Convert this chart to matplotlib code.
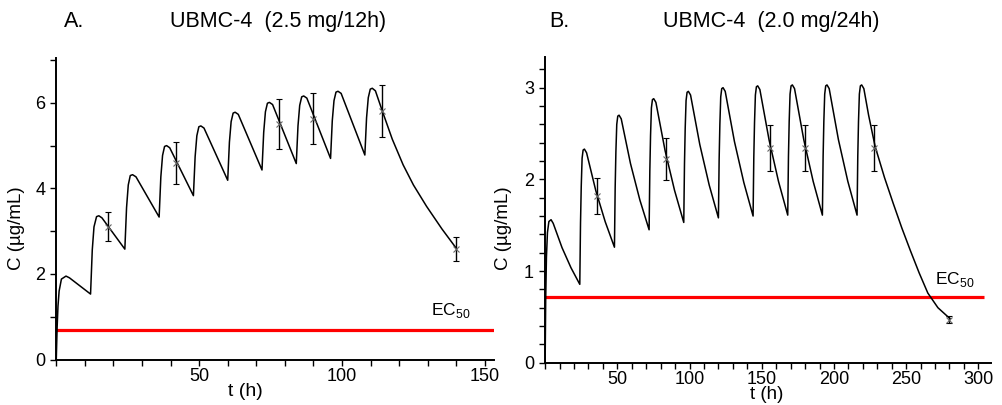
import matplotlib
matplotlib.use('Agg')
import matplotlib.pyplot as plt
from matplotlib.ticker import FixedLocator, MultipleLocator

plt.rcParams['font.family'] = ['Liberation Sans', 'DejaVu Sans']
plt.rcParams['mathtext.fontset'] = 'custom'
plt.rcParams['mathtext.rm'] = 'Liberation Sans'

# panel A: simulated curve, 2.5 mg every 12 h
t_a = [0, 0.3, 0.6, 1.0, 1.8, 3.4, 4.6, 12.0,
       12.6, 13.2, 14.1, 14.9, 16.0, 24.0,
       24.6, 25.2, 25.9, 26.7, 27.9, 36.0,
       36.6, 37.2, 37.9, 38.6, 39.7, 48.0,
       48.6, 49.2, 49.9, 50.6, 51.7, 60.0,
       60.6, 61.2, 61.9, 62.6, 63.7, 72.0,
       72.6, 73.2, 73.9, 74.6, 75.7, 84.0,
       84.6, 85.2, 85.9, 86.6, 87.7, 96.0,
       96.6, 97.2, 97.9, 98.6, 99.7, 108.0,
       108.6, 109.2, 109.9, 110.6, 111.7, 114.0, 117.6, 121.4,
       125.0, 129.6, 135.0, 140.0]
c_a = [0, 0.75, 1.25, 1.6, 1.88, 1.95, 1.91, 1.53,
       2.56, 3.10, 3.34, 3.36, 3.31, 2.58,
       3.55, 4.08, 4.30, 4.32, 4.27, 3.33,
       4.27, 4.77, 4.98, 5.00, 4.95, 3.83,
       4.74, 5.23, 5.44, 5.46, 5.41, 4.19,
       5.08, 5.56, 5.76, 5.78, 5.73, 4.43,
       5.31, 5.79, 5.99, 6.01, 5.96, 4.58,
       5.46, 5.94, 6.14, 6.16, 6.11, 4.70,
       5.58, 6.05, 6.25, 6.27, 6.22, 4.78,
       5.65, 6.12, 6.32, 6.34, 6.28, 5.83, 5.15, 4.55,
       4.08, 3.58, 3.05, 2.60]
obs_t_a = [18, 42, 78, 90, 114, 140]
obs_c_a = [3.10, 4.60, 5.50, 5.63, 5.81, 2.59]
obs_e_a = [0.34, 0.49, 0.59, 0.60, 0.61, 0.28]
ec50_a = 0.69

# panel B: 2.0 mg every 24 h
t_b = [0, 0.4, 0.9, 1.6, 2.6, 4.1, 5.6, 11.7, 17.9, 24.0,
       24.5, 25.0, 25.6, 26.3, 27.2, 28.7, 35.1, 41.6, 48.0,
       48.5, 49.0, 49.6, 50.3, 51.2, 52.7, 59.1, 65.6, 72.0,
       72.5, 73.0, 73.6, 74.3, 75.2, 76.7, 83.1, 89.6, 96.0,
       96.5, 97.0, 97.6, 98.3, 99.2, 100.7, 107.1, 113.6, 120.0,
       120.5, 121.0, 121.6, 122.3, 123.2, 124.7, 131.1, 137.6, 144.0,
       144.5, 145.0, 145.6, 146.3, 147.2, 148.7, 155.1, 161.6, 168.0,
       168.5, 169.0, 169.6, 170.3, 171.2, 172.7, 179.1, 185.6, 192.0,
       192.5, 193.0, 193.6, 194.3, 195.2, 196.7, 203.1, 209.6, 216.0,
       216.5, 217.0, 217.6, 218.3, 219.2, 220.7, 224.0, 228.5, 235.0,
       241.0, 247.0, 253.0, 259.0, 265.0, 272.0, 280.4]
c_b = [0, 0.70, 1.15, 1.42, 1.54, 1.56, 1.52, 1.255, 1.036, 0.855,
       1.52, 1.92, 2.23, 2.32, 2.33, 2.29, 1.876, 1.538, 1.26,
       1.91, 2.30, 2.60, 2.69, 2.70, 2.66, 2.173, 1.775, 1.45,
       2.09, 2.48, 2.78, 2.87, 2.88, 2.84, 2.311, 1.881, 1.53,
       2.17, 2.56, 2.86, 2.95, 2.96, 2.92, 2.380, 1.939, 1.58,
       2.22, 2.60, 2.90, 2.99, 3.00, 2.96, 2.412, 1.965, 1.60,
       2.24, 2.62, 2.92, 3.01, 3.02, 2.98, 2.428, 1.978, 1.61,
       2.25, 2.63, 2.93, 3.02, 3.03, 2.99, 2.433, 1.979, 1.61,
       2.25, 2.63, 2.93, 3.02, 3.03, 2.99, 2.433, 1.979, 1.61,
       2.25, 2.63, 2.93, 3.02, 3.03, 2.99, 2.70, 2.36, 2.02,
       1.74, 1.47, 1.22, 0.98, 0.76, 0.60, 0.48]
obs_t_b = [36, 84, 156, 180, 228, 280]
obs_c_b = [1.82, 2.22, 2.34, 2.34, 2.34, 0.47]
obs_e_b = [0.20, 0.23, 0.25, 0.25, 0.25, 0.04]
ec50_b = 0.72


def draw_panel(ax, t, c, ot, oc, oe, ec50, ec_end, xlim, ylim,
               xticks, xminor, yticks, yminor, ec_xy):
    ax.plot(t, c, color='black', lw=1.1, zorder=3)
    ax.errorbar(ot, oc, yerr=oe, fmt='x', color='#666666', ms=5, mew=0.8,
                ecolor='black', elinewidth=1.0, capsize=2.3, capthick=1.0,
                zorder=4)
    ax.hlines(ec50, 0, ec_end, color='#ff0000', lw=2.3, zorder=2)
    ax.text(ec_xy[0], ec_xy[1], r'EC$_{\mathrm{50}}$', fontsize=12.5,
            ha='left', va='center')
    ax.set_xlim(*xlim)
    ax.set_ylim(*ylim)
    for s in ('top', 'right'):
        ax.spines[s].set_visible(False)
    for s in ('left', 'bottom'):
        ax.spines[s].set_linewidth(1.4)
    ax.xaxis.set_major_locator(FixedLocator(xticks))
    ax.xaxis.set_minor_locator(MultipleLocator(xminor))
    ax.yaxis.set_major_locator(FixedLocator(yticks))
    ax.yaxis.set_minor_locator(MultipleLocator(yminor))
    ax.tick_params(which='both', direction='out', length=4, width=1.0,
                   labelsize=13, pad=2)
    ax.tick_params(axis='y', which='both', pad=4)


fig = plt.figure(figsize=(10.03, 4.05), dpi=100)

ax1 = fig.add_axes([0.0561, 0.1123, 0.4367, 0.7437])
draw_panel(ax1, t_a, c_a, obs_t_a, obs_c_a, obs_e_a, ec50_a, 153.3,
           (0, 153.3), (0, 7.04), [50, 100, 150], 10, [0, 2, 4, 6], 1,
           (131, 1.15))
ax1.set_xlabel('t (h)', fontsize=14)
ax1.xaxis.set_label_coords(0.432, -0.077)
ax1.set_ylabel('C (µg/mL)', fontsize=13.5)
ax1.yaxis.set_label_coords(-0.0715, 0.437)

ax2 = fig.add_axes([0.5435, 0.1044, 0.4446, 0.7556])
draw_panel(ax2, t_b, c_b, obs_t_b, obs_c_b, obs_e_b, ec50_b, 304,
           (0, 308.8), (0, 3.338), [50, 100, 150, 200, 250, 300], 10,
           [0, 1, 2, 3], 0.2, (270, 0.91))
ax2.set_xlabel('t (h)', fontsize=13.5)
ax2.xaxis.set_label_coords(0.497, -0.077)
ax2.set_ylabel('C (µg/mL)', fontsize=13.5)
ax2.yaxis.set_label_coords(-0.074, 0.44)

fig.text(0.0638, 0.9457, 'A.', fontsize=15.5, ha='left', va='center')
fig.text(0.277, 0.9457, 'UBMC-4  (2.5 mg/12h)', fontsize=15.5,
         ha='center', va='center')
fig.text(0.548, 0.9457, 'B.', fontsize=15.5, ha='left', va='center')
fig.text(0.769, 0.9457, 'UBMC-4  (2.0 mg/24h)', fontsize=15.5,
         ha='center', va='center')

fig.savefig('out.png', dpi=100)
